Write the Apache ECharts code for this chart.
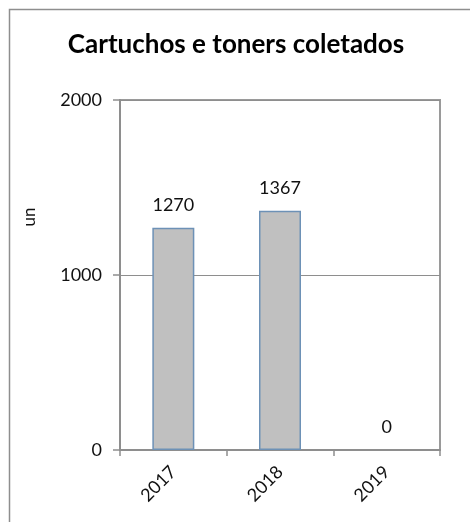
<!DOCTYPE html>
<html lang="pt">
<head>
    <meta charset="UTF-8">
    <title>Cartuchos e toners coletados</title>
    <script src="https://cdn.jsdelivr.net/npm/echarts@6/dist/echarts.min.js"></script>
    <style>
        html, body { margin: 0; padding: 0; background: #fff; }
    </style>
</head>
<body>
<div id="main" style="width: 470px;height:522px;"></div>

<script type="text/javascript">
    // dados do grafico
    var anos = ['2017', '2018', '2019'];
    var coletados = [1270, 1367, 0];
    var eixoY = [0, 1000, 2000];

    var fonte = 'Lato, "Noto Sans", sans-serif';
    var cinza = '#8e8e8e';

    var chart = echarts.init(document.getElementById('main'));

    // barra com valor zero fica sem contorno
    var barras = coletados.map(function (v) {
        return v === 0 ? {value: v, itemStyle: {borderWidth: 0}} : v;
    });

    var option = {
        animation: false,
        title: {
            text: 'Cartuchos e toners coletados',
            left: 231,
            textAlign: 'center',
            top: 27,
            textStyle: {
                fontFamily: fonte,
                fontSize: 26,
                fontWeight: 'bold',
                color: '#000'
            }
        },
        grid: {
            left: 120,
            right: 30,
            top: 100,
            bottom: 72,
            show: true,
            borderColor: '#9a9a9a',
            borderWidth: 2
        },
        graphic: [
            {
                // moldura externa
                type: 'rect',
                shape: {x: 9.5, y: 9.5, width: 600, height: 600},
                style: {fill: 'none', stroke: cinza, lineWidth: 1.5}
            },
            {
                type: 'text',
                x: 30,
                y: 217,
                rotation: Math.PI / 2,
                style: {
                    text: 'un',
                    fontFamily: fonte,
                    fontSize: 17,
                    fill: '#111',
                    align: 'center',
                    verticalAlign: 'middle'
                }
            }
        ],
        xAxis: {
            type: 'category',
            data: anos,
            boundaryGap: true,
            axisLine: {lineStyle: {color: cinza, width: 2}},
            axisTick: {show: true, length: 6, lineStyle: {color: cinza, width: 1.5}},
            axisLabel: {
                rotate: 45,
                margin: 19,
                fontFamily: fonte,
                fontSize: 18,
                color: '#111'
            }
        },
        yAxis: {
            type: 'value',
            min: eixoY[0],
            max: eixoY[eixoY.length - 1],
            interval: 1000,
            axisLine: {show: true, lineStyle: {color: cinza, width: 2}},
            axisTick: {show: true, length: 7, lineStyle: {color: cinza, width: 1.5}},
            splitLine: {show: true, lineStyle: {color: cinza, width: 1}},
            axisLabel: {
                margin: 18,
                fontFamily: fonte,
                fontSize: 18,
                color: '#111',
                formatter: function (v) { return String(v); }
            }
        },
        series: [
            {
                name: 'coletados',
                type: 'bar',
                data: barras,
                barWidth: 42,
                itemStyle: {
                    color: '#c0c0c0',
                    borderColor: '#6d91b6',
                    borderWidth: 1.5
                },
                label: {
                    show: true,
                    position: 'top',
                    distance: 14,
                    fontFamily: fonte,
                    fontSize: 18,
                    color: '#111'
                }
            }
        ]
    };

    chart.setOption(option);
</script>
</body>
</html>
